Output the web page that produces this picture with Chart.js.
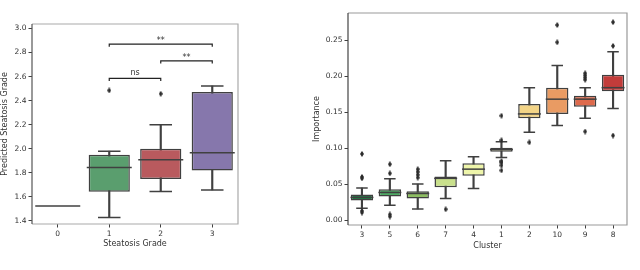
<!DOCTYPE html>
<html>
<head>
<meta charset="utf-8">
<script src="https://cdn.jsdelivr.net/npm/chart.js@4/dist/chart.umd.min.js"></script>
<style>
  body { margin: 0; background: #fff; }
  canvas { position: absolute; top: 0; }
  #graficoNotas { left: 0; }
  #graficoClusters { left: 300px; }
</style>
</head>
<body>
<canvas id="graficoNotas" width="262" height="270"></canvas>
<canvas id="graficoClusters" width="340" height="270"></canvas>
<script>
// ======================================================
// 1. DADOS
// ======================================================

// painel esquerdo: grau de esteatose
const notas = ['0', '1', '2', '3'];
const notaMin = [null, 1.43, 1.646, 1.658];
const notaQ1 = [null, 1.643, 1.748, 1.82];
const notaMediana = [1.525, 1.845, 1.908, 1.968];
const notaQ3 = [null, 1.95, 2.0, 2.472];
const notaMax = [null, 1.98, 2.2, 2.522];
const notaOutliers = [[], [2.485], [2.457], []];
const notaCores = ['#888888', '#5a9e6e', '#b95a5e', '#8677ac'];
const notaTicks = [1.4, 1.6, 1.8, 2.0, 2.2, 2.4, 2.6, 2.8, 3.0];

// colchetes de significancia
const colcheteDe = ['1', '2', '1'];
const colcheteAte = ['2', '3', '3'];
const colcheteY = [2.585, 2.73, 2.87];
const colcheteTexto = ['ns', '**', '**'];

// painel direito: importancia por cluster
const clusters = ['3', '5', '6', '7', '4', '1', '2', '10', '9', '8'];
const impMin = [0.0164, 0.0205, 0.0155, 0.030, 0.0438, 0.0868, 0.122, 0.1315, 0.1415, 0.155];
const impQ1 = [0.0274, 0.0329, 0.030, 0.0456, 0.0616, 0.095, 0.1415, 0.1475, 0.1575, 0.179];
const impMediana = [0.0315, 0.0384, 0.037, 0.058, 0.0708, 0.098, 0.1475, 0.168, 0.168, 0.184];
const impQ3 = [0.0356, 0.0429, 0.040, 0.0607, 0.079, 0.1005, 0.1612, 0.184, 0.1726, 0.2018];
const impMax = [0.0447, 0.0575, 0.050, 0.0826, 0.088, 0.1087, 0.184, 0.2146, 0.184, 0.234];
const impOutliers = [
  [0.092, 0.060, 0.058, 0.0128, 0.0105],
  [0.0776, 0.065, 0.0078, 0.005],
  [0.0708, 0.067, 0.063, 0.059],
  [0.015],
  [],
  [0.145, 0.111, 0.082, 0.080, 0.076, 0.069],
  [0.108],
  [0.271, 0.247],
  [0.204, 0.201, 0.198, 0.195, 0.123],
  [0.275, 0.242, 0.1175]
];
const impCores = ['#237c45', '#4ea964', '#8dbd62', '#c9e08c', '#eef5aa', '#fbf8c0', '#f3d486', '#e99b63', '#de6a4c', '#c23c3a'];
const impTicks = [0.00, 0.05, 0.10, 0.15, 0.20, 0.25];

// ======================================================
// 2. FUNÇÕES DE APOIO
// ======================================================

const FONTE = 'DejaVu Sans';
const LINHA = '#404040';

// losango das bolinhas de outlier
function losango(w, h, cor) {
  const c = document.createElement('canvas');
  c.width = w; c.height = h;
  const g = c.getContext('2d');
  g.fillStyle = cor;
  g.beginPath();
  g.moveTo(w / 2, 0); g.lineTo(w, h / 2); g.lineTo(w / 2, h); g.lineTo(0, h / 2);
  g.closePath();
  g.fill();
  return c;
}

// monta os datasets de um boxplot a partir dos arrays
function datasetsBoxplot(labels, mins, q1s, meds, q3s, maxs, outs, cores, larguraMeia) {
  const pontosOut = [];
  outs.forEach((lista, i) => lista.forEach(v => pontosOut.push({ x: labels[i], y: v })));
  const caps = [];
  labels.forEach((l, i) => {
    if (mins[i] != null) caps.push({ x: l, y: mins[i] });
    if (maxs[i] != null) caps.push({ x: l, y: maxs[i] });
  });
  return [
    {
      type: 'bar',
      data: labels.map((l, i) => mins[i] == null ? null : [mins[i], maxs[i]]),
      backgroundColor: LINHA,
      barThickness: 1.5,
      grouped: false,
      order: 4
    },
    {
      type: 'bar',
      data: labels.map((l, i) => q1s[i] == null ? null : [q1s[i], q3s[i]]),
      backgroundColor: cores,
      borderColor: LINHA,
      borderWidth: 1.5,
      borderSkipped: false,
      categoryPercentage: 0.8,
      barPercentage: 1,
      grouped: false,
      order: 3
    },
    {
      type: 'scatter',
      data: labels.map((l, i) => ({ x: l, y: meds[i] })),
      pointStyle: 'line',
      pointRadius: larguraMeia,
      pointBorderColor: LINHA,
      pointBorderWidth: 1.5,
      order: 2
    },
    {
      type: 'scatter',
      data: caps,
      pointStyle: 'line',
      pointRadius: larguraMeia / 2,
      pointBorderColor: LINHA,
      pointBorderWidth: 1.5,
      order: 2
    },
    {
      type: 'scatter',
      data: pontosOut,
      pointStyle: losango(4, 6, '#2b2b2b'),
      order: 1
    }
  ];
}

// moldura em volta da area do grafico
function moldura(corEsq, corResto) {
  return {
    id: 'moldura',
    afterDraw(chart) {
      const { ctx, chartArea: a } = chart;
      ctx.save();
      ctx.lineWidth = 1.2;
      ctx.strokeStyle = corResto;
      ctx.beginPath();
      ctx.moveTo(a.left, a.top); ctx.lineTo(a.right, a.top); ctx.lineTo(a.right, a.bottom); ctx.lineTo(a.left, a.bottom);
      ctx.stroke();
      ctx.strokeStyle = corEsq;
      ctx.beginPath();
      ctx.moveTo(a.left, a.top); ctx.lineTo(a.left, a.bottom);
      ctx.stroke();
      ctx.restore();
    }
  };
}

function eixoX(titulo, altura, padTitulo) {
  return {
    type: 'category',
    offset: true,
    grid: { offset: false, drawOnChartArea: false, drawTicks: true, tickLength: 3.5, color: LINHA },
    border: { display: false },
    ticks: { color: '#333', font: { family: FONTE, size: 7.5 }, padding: 2, maxRotation: 0 },
    title: { display: true, text: titulo, color: '#333', font: { family: FONTE, size: 8 }, padding: { top: 0, bottom: padTitulo } },
    afterFit: s => { s.height = altura; }
  };
}

function eixoY(titulo, min, max, ticks, casas, largura, padTitulo) {
  return {
    type: 'linear',
    min: min,
    max: max,
    grid: { drawOnChartArea: false, drawTicks: true, tickLength: 3.5, color: LINHA },
    border: { display: false },
    ticks: { color: '#333', font: { family: FONTE, size: 7.5 }, padding: 2, callback: v => Number(v).toFixed(casas) },
    afterBuildTicks: s => { s.ticks = ticks.map(v => ({ value: v })); },
    title: { display: true, text: titulo, color: '#333', font: { family: FONTE, size: 8 }, padding: { top: padTitulo, bottom: 0 } },
    afterFit: s => { s.width = largura; }
  };
}

// ======================================================
// 3. GRÁFICO ESQUERDO (GRAU DE ESTEATOSE)
// ======================================================

const colchetesDatasets = colcheteDe.map((de, i) => ({
  type: 'line',
  data: [
    { x: de, y: colcheteY[i] - 0.022 },
    { x: de, y: colcheteY[i] },
    { x: colcheteAte[i], y: colcheteY[i] },
    { x: colcheteAte[i], y: colcheteY[i] - 0.022 }
  ],
  borderColor: '#222',
  borderWidth: 1.2,
  pointRadius: 0,
  order: 0
}));

const textoColchetes = {
  id: 'textoColchetes',
  afterDatasetsDraw(chart) {
    const { ctx, scales: { x, y } } = chart;
    ctx.save();
    ctx.fillStyle = '#333';
    ctx.font = '8px "' + FONTE + '"';
    ctx.textAlign = 'center';
    ctx.textBaseline = 'bottom';
    colcheteTexto.forEach((t, i) => {
      const px = (x.getPixelForValue(notas.indexOf(colcheteDe[i])) + x.getPixelForValue(notas.indexOf(colcheteAte[i]))) / 2;
      const py = y.getPixelForValue(colcheteY[i]) - (t === 'ns' ? 1 : -1);
      ctx.fillText(t, px, py);
    });
    ctx.restore();
  }
};

new Chart(document.getElementById('graficoNotas'), {
  type: 'bar',
  data: {
    labels: notas,
    datasets: datasetsBoxplot(notas, notaMin, notaQ1, notaMediana, notaQ3, notaMax, notaOutliers, notaCores, 22.5)
      .concat(colchetesDatasets)
  },
  options: {
    responsive: false,
    animation: false,
    layout: { padding: { left: 0, right: 6, top: 1, bottom: 0 } },
    plugins: { legend: { display: false }, tooltip: { enabled: false } },
    scales: {
      x: eixoX('Steatosis Grade', 46, 21),
      y: eixoY('Predicted Steatosis Grade', 1.375, 3.037, notaTicks, 1, 32, 0.2)
    }
  },
  plugins: [moldura('#555', '#aaa'), textoColchetes]
});

// ======================================================
// 4. GRÁFICO DIREITO (IMPORTÂNCIA POR CLUSTER)
// ======================================================

new Chart(document.getElementById('graficoClusters'), {
  type: 'bar',
  data: {
    labels: clusters,
    datasets: datasetsBoxplot(clusters, impMin, impQ1, impMediana, impQ3, impMax, impOutliers, impCores, 11.5)
  },
  options: {
    responsive: false,
    animation: false,
    layout: { padding: { left: 0, right: 5, top: 10, bottom: 0 } },
    plugins: { legend: { display: false }, tooltip: { enabled: false } },
    scales: {
      x: eixoX('Cluster', 45, 19.5),
      y: eixoY('Importance', -0.0068, 0.2877, impTicks, 2, 48, 12)
    }
  },
  plugins: [moldura('#444', '#999')]
});
</script>
</body>
</html>
